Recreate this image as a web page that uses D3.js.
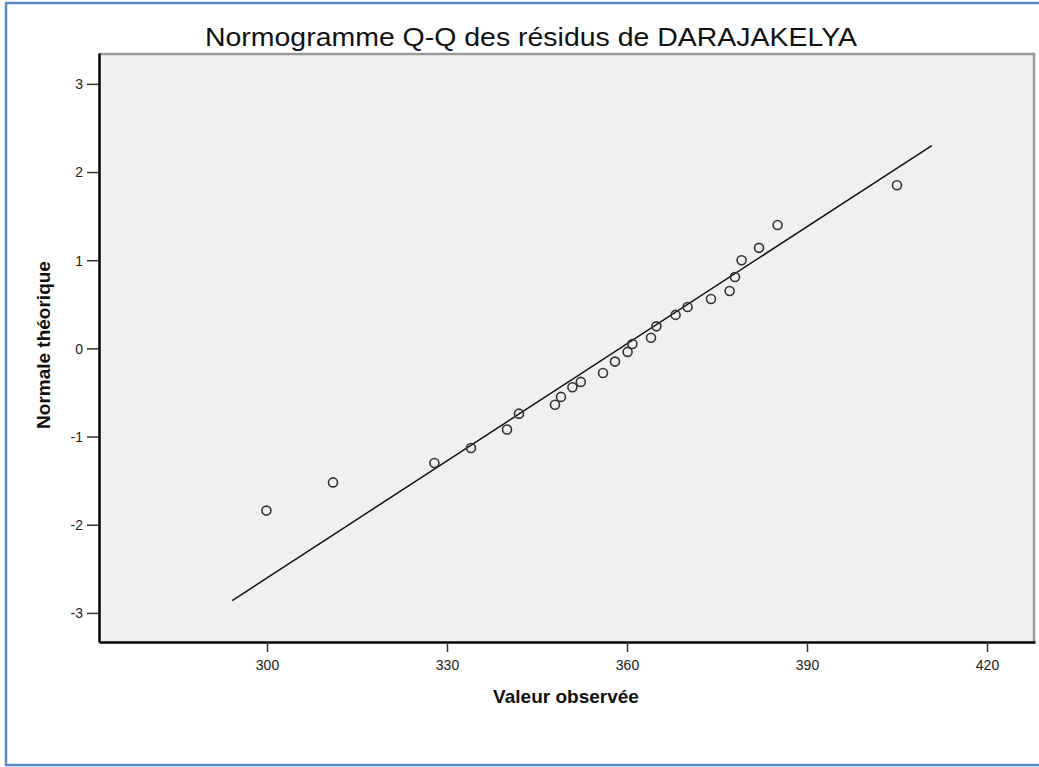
<!DOCTYPE html>
<html>
<head>
<meta charset="utf-8">
<script src="https://cdn.jsdelivr.net/npm/d3@7"></script>
<style>
  body{margin:0;background:#fff;font-family:"Liberation Sans",Arial,sans-serif;}
</style>
</head>
<body>
<script>
const w=1039;
const h=767;
const plot={left:99,right:1035,top:53,bottom:642};

// observed values and theoretical normal quantiles
const observed=[299.9,311.0,327.9,334.0,340.0,342.0,348.0,349.0,350.9,352.3,356.0,358.0,360.1,360.9,
                364.0,364.9,368.1,370.1,374.0,377.1,378.0,379.1,382.0,385.1,405.0];
const expected=[-1.84,-1.52,-1.30,-1.13,-0.92,-0.74,-0.64,-0.55,-0.44,-0.38,-0.28,-0.15,-0.04,0.05,
                0.12,0.25,0.38,0.47,0.56,0.65,0.81,1.00,1.14,1.40,1.85];
const refLine=[[294.2,-2.86],[410.8,2.30]];
const xTicks=[300,330,360,390,420];
const yTicks=[-3,-2,-1,0,1,2,3];

const points=observed.map((v,i)=>({x:v,y:expected[i]}));

const xScale=d3.scaleLinear().domain([272,428]).range([plot.left,plot.right]);
const yScale=d3.scaleLinear().domain([-3.33,3.35]).range([plot.bottom,plot.top]);

const svg=d3.select("body").append("svg").attr("width",w).attr("height",h);

// outer blue frame
svg.append("path")
  .attr("d",`M${w+5},3 L6,3 L6,765 L${w+5},765`)
  .attr("fill","none")
  .attr("stroke","#5b8ac9")
  .attr("stroke-width",2.5);

// plot background
svg.append("rect")
  .attr("x",plot.left)
  .attr("y",plot.top)
  .attr("width",plot.right-plot.left)
  .attr("height",plot.bottom-plot.top)
  .attr("fill","#f0f0f0");

// grey frame top/right
svg.append("path")
  .attr("d",`M${plot.left},${plot.top+1} L${plot.right-1},${plot.top+1} L${plot.right-1},${plot.bottom}`)
  .attr("fill","none")
  .attr("stroke","#9a9a9a")
  .attr("stroke-width",2.5);

svg.append("text")
  .text("Normogramme Q-Q des résidus de DARAJAKELYA")
  .attr("x",531)
  .attr("y",46)
  .attr("text-anchor","middle")
  .attr("textLength",652)
  .attr("lengthAdjust","spacingAndGlyphs")
  .style("font-size","25px")
  .style("fill","#111");

const fmt=d=>String(d);

const xAxis=d3.axisBottom(xScale).tickValues(xTicks).tickSize(10).tickSizeOuter(0).tickPadding(8).tickFormat(fmt);
const gx=svg.append("g")
  .attr("transform",`translate(0,${plot.bottom})`)
  .call(xAxis);

const yAxis=d3.axisLeft(yScale).tickValues(yTicks).tickSize(12).tickSizeOuter(0).tickPadding(4).tickFormat(fmt);
const gy=svg.append("g")
  .attr("transform",`translate(${plot.left},0)`)
  .call(yAxis);

[gx,gy].forEach(g=>{
  g.select(".domain").attr("stroke","#000").attr("stroke-width",2.5);
  g.selectAll(".tick line").attr("stroke","#333").attr("stroke-width",1.5);
  g.selectAll(".tick text")
    .style("font-family","'Liberation Sans',Arial,sans-serif")
    .style("font-size","14px")
    .style("fill","#222");
});
gy.selectAll(".tick text").attr("dy","0.35em");

svg.append("text")
  .text("Valeur observée")
  .attr("x",566)
  .attr("y",703)
  .attr("text-anchor","middle")
  .style("font-size","19px")
  .style("font-weight","bold")
  .style("fill","#111");

svg.append("text")
  .text("Normale théorique")
  .attr("transform",`translate(50,345) rotate(-90)`)
  .attr("text-anchor","middle")
  .style("font-size","19px")
  .style("font-weight","bold")
  .style("fill","#111");

svg.append("line")
  .attr("x1",xScale(refLine[0][0]))
  .attr("y1",yScale(refLine[0][1]))
  .attr("x2",xScale(refLine[1][0]))
  .attr("y2",yScale(refLine[1][1]))
  .attr("stroke","#111")
  .attr("stroke-width",1.5);

svg.selectAll("circle.pt")
  .data(points)
  .enter()
  .append("circle")
  .attr("class","pt")
  .attr("cx",d=>xScale(d.x))
  .attr("cy",d=>yScale(d.y))
  .attr("r",4.5)
  .attr("fill","none")
  .attr("stroke","#333")
  .attr("stroke-width",1.6);
</script>
</body>
</html>
